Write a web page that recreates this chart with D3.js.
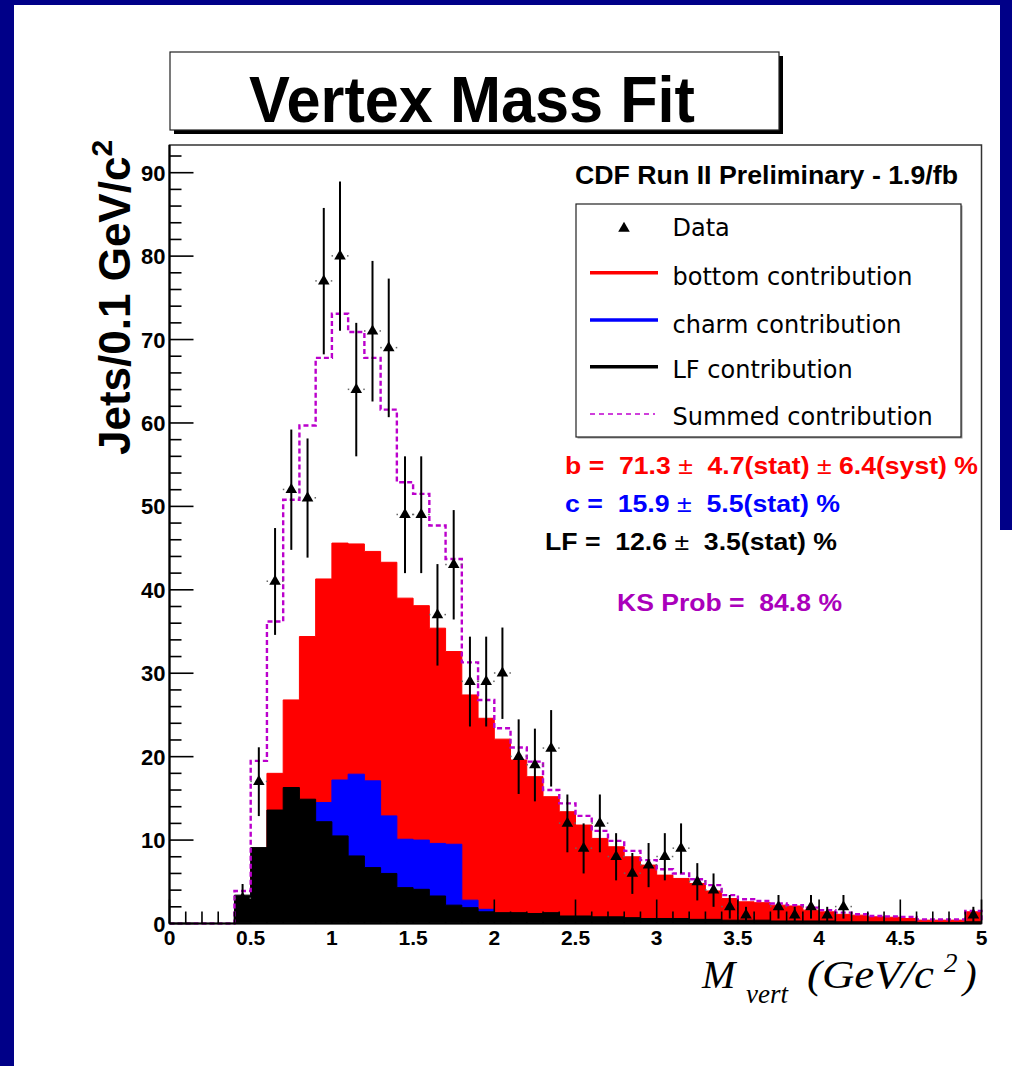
<!DOCTYPE html>
<html>
<head>
<meta charset="utf-8">
<script src="https://cdn.jsdelivr.net/npm/d3@7"></script>
<style>
  html, body { margin: 0; padding: 0; background: #ffffff; }
  svg { display: block; }
</style>
</head>
<body>
<svg id="chart" width="1012" height="1066"></svg>
<script>
// Lower edges of the 0.1 GeV/c^2 vertex-mass bins
const binLow = [0.0,0.1,0.2,0.3,0.4,0.5,0.6,0.7,0.8,0.9,
                1.0,1.1,1.2,1.3,1.4,1.5,1.6,1.7,1.8,1.9,
                2.0,2.1,2.2,2.3,2.4,2.5,2.6,2.7,2.8,2.9,
                3.0,3.1,3.2,3.3,3.4,3.5,3.6,3.7,3.8,3.9,
                4.0,4.1,4.2,4.3,4.4,4.5,4.6,4.7,4.8,4.9];
const binWidth = 0.1;

// Fitted template contributions (jets per bin)
const bottomContribution = [0,0,0,0,0.3,6.6,18.0,26.8,34.4,41.3,
                            45.6,45.5,44.6,43.3,39.0,38.1,35.4,32.6,27.4,24.6,
                            22.1,19.6,17.6,15.2,13.4,11.8,10.2,9.2,8.0,7.0,
                            5.8,5.4,4.8,3.9,3.0,2.6,2.5,2.2,2.1,1.6,
                            1.4,1.1,1.0,0.8,0.75,0.6,0.4,0.4,0.4,1.4];
const charmContribution  = [0,0,0,0,0.2,3.6,4.7,7.8,10.5,14.5,
                            17.2,17.9,17.1,12.9,10.1,10.0,9.6,9.5,2.8,1.7,
                            0.9,0.7,0.6,0.5,0.5,0.4,0.4,0.3,0.3,0.3,
                            0.3,0.3,0.2,0.2,0.2,0.2,0.2,0.2,0.15,0.15,
                            0.1,0.1,0.1,0.1,0.1,0.05,0.05,0.05,0.05,0.05];
const lfContribution     = [0,0,0,0,3.4,9.1,13.6,16.3,14.9,12.2,
                            10.5,8.1,6.7,6.0,4.3,4.1,3.3,2.2,1.9,1.4,
                            1.3,1.3,1.2,1.3,0.9,0.9,0.8,0.8,0.7,0.6,
                            0.6,0.6,0.5,0.5,0.4,0.4,0.4,0.3,0.3,0.3,
                            0.3,0.2,0.2,0.2,0.2,0.2,0.1,0.1,0.1,0.2];
const summedContribution = [0,0,0,0,3.9,19.5,36.2,50.8,59.7,67.8,
                            73.1,70.9,67.8,61.6,52.9,51.5,47.7,43.7,31.3,26.8,
                            23.4,21.1,19.4,16.0,14.4,12.9,11.1,9.9,8.7,7.6,
                            6.5,6.0,5.3,4.6,3.4,2.9,2.7,2.4,2.2,1.9,
                            1.6,1.3,1.1,0.9,0.85,0.8,0.5,0.5,0.5,1.5];
// Observed jet counts
const dataCounts = [0,0,0,0,3,17,41,52,51,77,
                    80,64,71,69,49,49,37,43,29,29,
                    30,20,19,21,12,9,12,8,6,7,
                    8,9,5,4,2,1,0,2,1,2,
                    1,2,0,0,0,0,0,0,0,1];

// Axis ticks
const xMajorTicks = [0,0.5,1,1.5,2,2.5,3,3.5,4,4.5,5];
const xTickLabels = ["0","0.5","1","1.5","2","2.5","3","3.5","4","4.5","5"];
const yMajorTicks = [0,10,20,30,40,50,60,70,80,90];
const yTickLabels = ["0","10","20","30","40","50","60","70","80","90"];

// Legend and fit results
const legendEntries = [
  {label: "Data", kind: "marker"},
  {label: "bottom contribution", kind: "line", color: "#ff0000"},
  {label: "charm contribution", kind: "line", color: "#0000ff"},
  {label: "LF contribution", kind: "line", color: "#000000"},
  {label: "Summed contribution", kind: "dash", color: "#c000d0"}
];

const NAVY = "#000088";
const MAGENTA = "#bb00cc";

const svg = d3.select("#chart");

// Slide frame
svg.append("rect").attr("x", 0).attr("y", 0).attr("width", 1012).attr("height", 1066).attr("fill", "#ffffff");
svg.append("rect").attr("x", 0).attr("y", 0).attr("width", 1012).attr("height", 5).attr("fill", NAVY);
svg.append("rect").attr("x", 0).attr("y", 0).attr("width", 14).attr("height", 1066).attr("fill", NAVY);
svg.append("rect").attr("x", 1000).attr("y", 0).attr("width", 12).attr("height", 530).attr("fill", NAVY);

// Plot geometry
const x = d3.scaleLinear().domain([0, 5]).range([169.5, 981.5]);
const y = d3.scaleLinear().domain([0, 93.32]).range([923.5, 145]);

// Title box with drop shadow
svg.append("rect").attr("x", 174).attr("y", 56).attr("width", 609).attr("height", 78).attr("fill", "#000");
svg.append("rect").attr("x", 170).attr("y", 52).attr("width", 609).attr("height", 78)
  .attr("fill", "#fff").attr("stroke", "#222").attr("stroke-width", 1.2);
svg.append("text").attr("x", 472).attr("y", 121.5).attr("text-anchor", "middle")
  .attr("font-family", "Liberation Sans, Arial, sans-serif").attr("font-weight", "bold")
  .attr("font-size", 64).attr("textLength", 446).attr("lengthAdjust", "spacingAndGlyphs")
  .attr("fill", "#000").text("Vertex Mass Fit");

// Frame background
svg.append("rect").attr("x", x(0)).attr("y", y(93.32)).attr("width", x(5) - x(0)).attr("height", y(0) - y(93.32))
  .attr("fill", "#fff");

// Histogram helpers: step shapes over the bins
function stepPoints(values) {
  const pts = binLow.map((lo, i) => ({e: lo, v: values[i]}));
  pts.push({e: binLow[binLow.length - 1] + binWidth, v: values[values.length - 1]});
  return pts;
}
const stepArea = d3.area().curve(d3.curveStepAfter)
  .x(d => x(d.e)).y0(y(0)).y1(d => y(d.v));
const stepLine = d3.line().curve(d3.curveStepAfter)
  .x(d => x(d.e)).y(d => y(d.v));

const plot = svg.append("g");
[[bottomContribution, "#ff0000"], [charmContribution, "#0000ff"], [lfContribution, "#000000"]]
  .forEach(([vals, col]) => {
    plot.append("path").datum(stepPoints(vals)).attr("d", stepArea)
      .attr("fill", col).attr("stroke", col).attr("stroke-width", 1);
  });

// Summed template as dashed outline, dropping to zero at the ends
const sumPts = stepPoints(summedContribution);
plot.append("path").datum(sumPts)
  .attr("d", d => "M" + x(0) + "," + y(0) + "L" + stepLine(d).slice(1) + "L" + x(5) + "," + y(0))
  .attr("fill", "none").attr("stroke", MAGENTA).attr("stroke-width", 2.4)
  .attr("stroke-dasharray", "5,3");

// Data points with Poisson error bars
const pts = binLow.map((lo, i) => ({c: lo + binWidth / 2, n: dataCounts[i]})).filter(d => d.n > 0);
const dataG = plot.append("g");
dataG.selectAll("line.err").data(pts).join("line").attr("class", "err")
  .attr("x1", d => x(d.c)).attr("x2", d => x(d.c))
  .attr("y1", d => y(d.n + Math.sqrt(d.n))).attr("y2", d => y(Math.max(0, d.n - Math.sqrt(d.n))))
  .attr("stroke", "#000").attr("stroke-width", 2);
dataG.selectAll("rect.dl").data(pts).join("rect").attr("class", "dl")
  .attr("x", d => x(d.c) - 8.5).attr("y", d => y(d.n) - 1).attr("width", 1.5).attr("height", 1.5)
  .attr("fill", "#666");
dataG.selectAll("rect.dr").data(pts).join("rect").attr("class", "dr")
  .attr("x", d => x(d.c) + 7).attr("y", d => y(d.n) - 1).attr("width", 1.5).attr("height", 1.5)
  .attr("fill", "#666");
const tri = d3.symbol().type(d3.symbolTriangle).size(58);
dataG.selectAll("path.mk").data(pts).join("path").attr("class", "mk")
  .attr("transform", d => `translate(${x(d.c)},${y(d.n)})`).attr("d", tri).attr("fill", "#000");

// Frame
svg.append("rect").attr("x", x(0)).attr("y", y(93.32)).attr("width", x(5) - x(0)).attr("height", y(0) - y(93.32))
  .attr("fill", "none").attr("stroke", "#333").attr("stroke-width", 1.5);

// Axes (ROOT style, ticks drawn inward)
const axG = svg.append("g").attr("stroke", "#000").attr("stroke-width", 1.6);
const yMinor = d3.range(0, 94, 2);
axG.selectAll("line.ymin").data(yMinor).join("line")
  .attr("x1", x(0)).attr("x2", d => x(0) + (d % 10 === 0 ? 24 : 12))
  .attr("y1", d => y(d)).attr("y2", d => y(d));
const xMinor = d3.range(0, 51).map(i => i / 10);
axG.selectAll("line.xmin").data(xMinor).join("line")
  .attr("x1", d => x(d)).attr("x2", d => x(d))
  .attr("y1", y(0)).attr("y2", (d, i) => y(0) - (i % 5 === 0 ? 24 : 12));
axG.append("line").attr("x1", x(0)).attr("x2", x(0)).attr("y1", y(0)).attr("y2", y(93.32)).attr("stroke-width", 2.2);
axG.append("line").attr("x1", x(0)).attr("x2", x(5)).attr("y1", y(0)).attr("y2", y(0)).attr("stroke-width", 2.2);

const labelFont = "Liberation Sans, Arial, sans-serif";
svg.append("g").selectAll("text").data(yMajorTicks).join("text")
  .attr("x", x(0) - 4).attr("y", d => y(d) + 8).attr("text-anchor", "end")
  .attr("font-family", labelFont).attr("font-weight", "bold").attr("font-size", 22)
  .text((d, i) => yTickLabels[i]);
svg.append("g").selectAll("text").data(xMajorTicks).join("text")
  .attr("x", d => x(d)).attr("y", y(0) + 21.5).attr("text-anchor", "middle")
  .attr("font-family", labelFont).attr("font-weight", "bold").attr("font-size", 21)
  .text((d, i) => xTickLabels[i]);

// Y axis title
const yt = svg.append("text").attr("transform", "translate(130,455) rotate(-90)")
  .attr("font-family", labelFont).attr("font-weight", "bold").attr("font-size", 44).attr("fill", "#000");
yt.append("tspan").text("Jets/0.1 GeV/c");
yt.append("tspan").attr("dy", -18).attr("font-size", 30).text("2");

// X axis title
const xt = svg.append("text").attr("font-family", "Liberation Serif, Times New Roman, serif")
  .attr("font-style", "italic").attr("fill", "#000");
xt.append("tspan").attr("x", 702).attr("y", 988).attr("font-size", 40).text("M");
xt.append("tspan").attr("x", 746).attr("y", 1003).attr("font-size", 27).text("vert");
xt.append("tspan").attr("x", 807).attr("y", 988).attr("font-size", 40)
  .attr("textLength", 127).attr("lengthAdjust", "spacingAndGlyphs").text("(GeV/c");
xt.append("tspan").attr("x", 944).attr("y", 972).attr("font-size", 27).text("2");
xt.append("tspan").attr("x", 963).attr("y", 988).attr("font-size", 41).text(")");

// Header
svg.append("text").attr("x", 575).attr("y", 184.3)
  .attr("font-family", labelFont).attr("font-weight", "bold").attr("font-size", 25)
  .attr("textLength", 383).attr("lengthAdjust", "spacingAndGlyphs")
  .text("CDF Run II Preliminary - 1.9/fb");

// Legend
const lg = svg.append("g");
lg.append("rect").attr("x", 577.5).attr("y", 205.5).attr("width", 385).attr("height", 233).attr("fill", "#999");
lg.append("rect").attr("x", 576).attr("y", 204).attr("width", 385).attr("height", 233)
  .attr("fill", "#fff").attr("stroke", "#222").attr("stroke-width", 1.2);
const rowY = [228.5, 272.7, 320, 366.7, 414];
const baseY = [236, 285, 332.7, 378.3, 425];
legendEntries.forEach((e, i) => {
  if (e.kind === "marker") {
    lg.append("path").attr("transform", `translate(624,${rowY[i]})`).attr("d", tri).attr("fill", "#000");
  } else if (e.kind === "line") {
    lg.append("line").attr("x1", 590).attr("x2", 658).attr("y1", rowY[i]).attr("y2", rowY[i])
      .attr("stroke", e.color).attr("stroke-width", 3.5);
  } else {
    lg.append("line").attr("x1", 590).attr("x2", 655).attr("y1", rowY[i]).attr("y2", rowY[i])
      .attr("stroke", e.color).attr("stroke-width", 1.5).attr("stroke-dasharray", "5,4");
  }
  lg.append("text").attr("x", 672.5).attr("y", baseY[i])
    .attr("font-family", "DejaVu Sans, sans-serif").attr("font-size", 24).attr("fill", "#000")
    .text(e.label);
});

// Fit results
function fitLine(xs, ys, col, parts, len) {
  const t = svg.append("text").attr("x", xs).attr("y", ys).attr("fill", col)
    .attr("font-family", labelFont).attr("font-weight", "bold").attr("font-size", 24)
    .attr("textLength", len).attr("lengthAdjust", "spacingAndGlyphs").attr("xml:space", "preserve");
  parts.forEach(p => {
    const s = t.append("tspan").text(p.t);
    if (p.pm) s.attr("font-weight", "normal");
  });
}
fitLine(565, 474.3, "#ff0000", [{t: "b =  71.3 "}, {t: "\u00b1", pm: true}, {t: "  4.7(stat) "}, {t: "\u00b1", pm: true}, {t: " 6.4(syst) %"}], 413);
fitLine(565, 511.7, "#0000ff", [{t: "c =  15.9 "}, {t: "\u00b1", pm: true}, {t: "  5.5(stat) %"}], 275);
fitLine(545, 550, "#000000", [{t: "LF =  12.6 "}, {t: "\u00b1", pm: true}, {t: "  3.5(stat) %"}], 292);
fitLine(617, 610.7, "#aa00bb", [{t: "KS Prob =  84.8 %"}], 225);
</script>
</body>
</html>
